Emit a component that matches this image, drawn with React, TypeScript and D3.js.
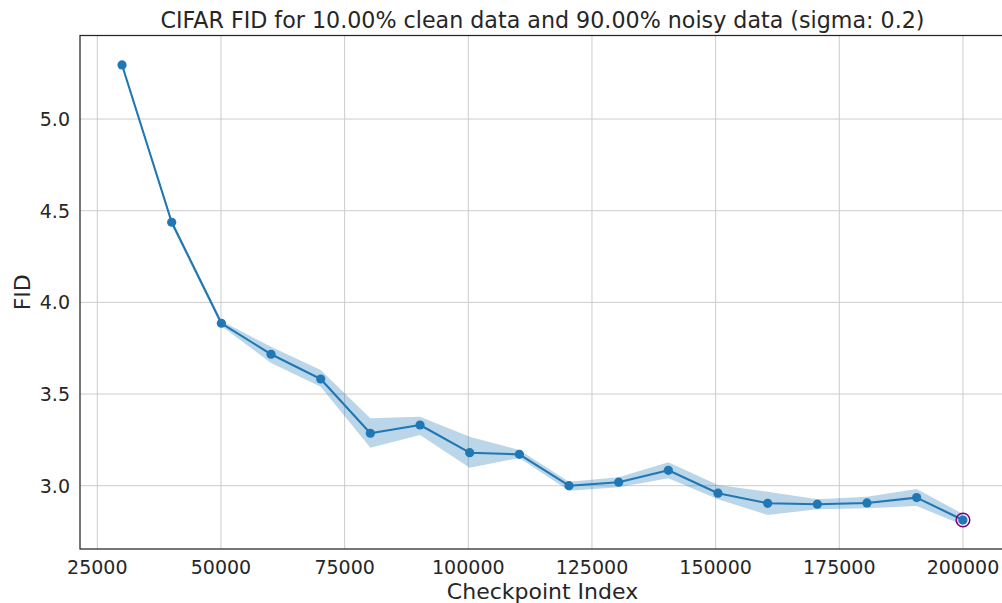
import React, { useEffect, useRef } from 'react';
import * as d3 from 'd3';

// checkpoints
const checkpoints = [30000, 40040, 50080, 60120, 70160, 80200, 90240, 100280, 110320, 120360, 130400, 140440, 150480, 160520, 170560, 180600, 190640, 200000];
const fidMean = [5.295, 4.437, 3.886, 3.717, 3.582, 3.286, 3.331, 3.180, 3.171, 3.000, 3.019, 3.084, 2.959, 2.904, 2.899, 2.906, 2.935, 2.813];
const fidLow = [5.293, 4.420, 3.871, 3.669, 3.540, 3.207, 3.277, 3.098, 3.151, 2.973, 2.991, 3.040, 2.926, 2.840, 2.871, 2.877, 2.889, 2.786];
const fidHigh = [5.297, 4.450, 3.898, 3.758, 3.631, 3.368, 3.376, 3.267, 3.195, 3.022, 3.046, 3.128, 3.004, 2.967, 2.926, 2.940, 2.982, 2.846];
const xTicks = [25000, 50000, 75000, 100000, 125000, 150000, 175000, 200000];
const yTicks = [3.0, 3.5, 4.0, 4.5, 5.0];
const title = 'CIFAR FID for 10.00% clean data and 90.00% noisy data (sigma: 0.2)';

const App = () => {
    const ref = useRef<SVGSVGElement>(null);

    useEffect(() => {
        const svg = d3.select(ref.current);
        svg.selectAll('*').remove();
        const width = 1002, height = 603;
        const left = 80, right = 1005, top = 35.5, bottom = 549;
        const font = 'DejaVu Sans, sans-serif';
        const ink = '#262626';

        const x = d3.scaleLinear().domain([21500, 208500]).range([left, right]);
        const y = d3.scaleLinear().domain([2.6547, 5.4557]).range([bottom, top]);

        svg.attr('width', width).attr('height', height);
        svg.append('rect').attr('width', width).attr('height', height).attr('fill', 'white');

        // grid
        const grid = svg.append('g');
        grid.selectAll('line.vx').data(xTicks).enter().append('line')
            .attr('x1', d => x(d)).attr('x2', d => x(d))
            .attr('y1', top).attr('y2', bottom)
            .attr('stroke', '#cccccc').attr('stroke-width', 1);
        grid.selectAll('line.hy').data(yTicks).enter().append('line')
            .attr('x1', left).attr('x2', right)
            .attr('y1', d => y(d)).attr('y2', d => y(d))
            .attr('stroke', '#cccccc').attr('stroke-width', 1);

        const data = checkpoints.map((c, i) => ({ c, m: fidMean[i], lo: fidLow[i], hi: fidHigh[i] }));

        const area = d3.area<any>().x(d => x(d.c)).y0(d => y(d.lo)).y1(d => y(d.hi));
        svg.append('path').attr('d', area(data)).attr('fill', '#1f77b4').attr('fill-opacity', 0.3);

        const line = d3.line<any>().x(d => x(d.c)).y(d => y(d.m));
        svg.append('path').attr('d', line(data)).attr('fill', 'none')
            .attr('stroke', '#1f77b4').attr('stroke-width', 2.1).attr('stroke-linejoin', 'round');

        svg.selectAll('circle.pt').data(data).enter().append('circle')
            .attr('cx', d => x(d.c)).attr('cy', d => y(d.m)).attr('r', 4.6)
            .attr('fill', '#1f77b4');

        // best checkpoint
        const best = data[d3.minIndex(data, d => d.m)];
        svg.append('circle').attr('cx', x(best.c)).attr('cy', y(best.m)).attr('r', 6.8)
            .attr('fill', 'none').attr('stroke', 'purple').attr('stroke-width', 1.5);

        // spines
        svg.append('rect').attr('x', left).attr('y', top).attr('width', right - left).attr('height', bottom - top)
            .attr('fill', 'none').attr('stroke', ink).attr('stroke-width', 1.25);

        // tick labels
        svg.selectAll('text.xt').data(xTicks).enter().append('text')
            .attr('x', d => x(d)).attr('y', 574).attr('text-anchor', 'middle')
            .attr('font-family', font).attr('font-size', 19).attr('fill', ink)
            .text(d => String(d));
        svg.selectAll('text.yt').data(yTicks).enter().append('text')
            .attr('x', 70).attr('y', d => y(d) + 7).attr('text-anchor', 'end')
            .attr('font-family', font).attr('font-size', 19).attr('fill', ink)
            .text(d => d.toFixed(1));

        svg.append('text').attr('x', (left + right) / 2).attr('y', 599)
            .attr('text-anchor', 'middle').attr('font-family', font).attr('font-size', 22).attr('fill', ink)
            .text('Checkpoint Index');
        svg.append('text').attr('transform', `translate(30,${(top + bottom) / 2}) rotate(-90)`)
            .attr('text-anchor', 'middle').attr('font-family', font).attr('font-size', 22).attr('fill', ink)
            .text('FID');
        svg.append('text').attr('x', (left + right) / 2).attr('y', 28)
            .attr('text-anchor', 'middle').attr('font-family', font).attr('font-size', 22.2).attr('fill', ink)
            .text(title);
    }, []);

    return (
        <div style={{ position: 'absolute', left: 0, top: 0, width: 1002, height: 603, overflow: 'hidden' }}>
            <svg ref={ref} style={{ display: 'block' }}></svg>
        </div>
    );
};

export default App;
